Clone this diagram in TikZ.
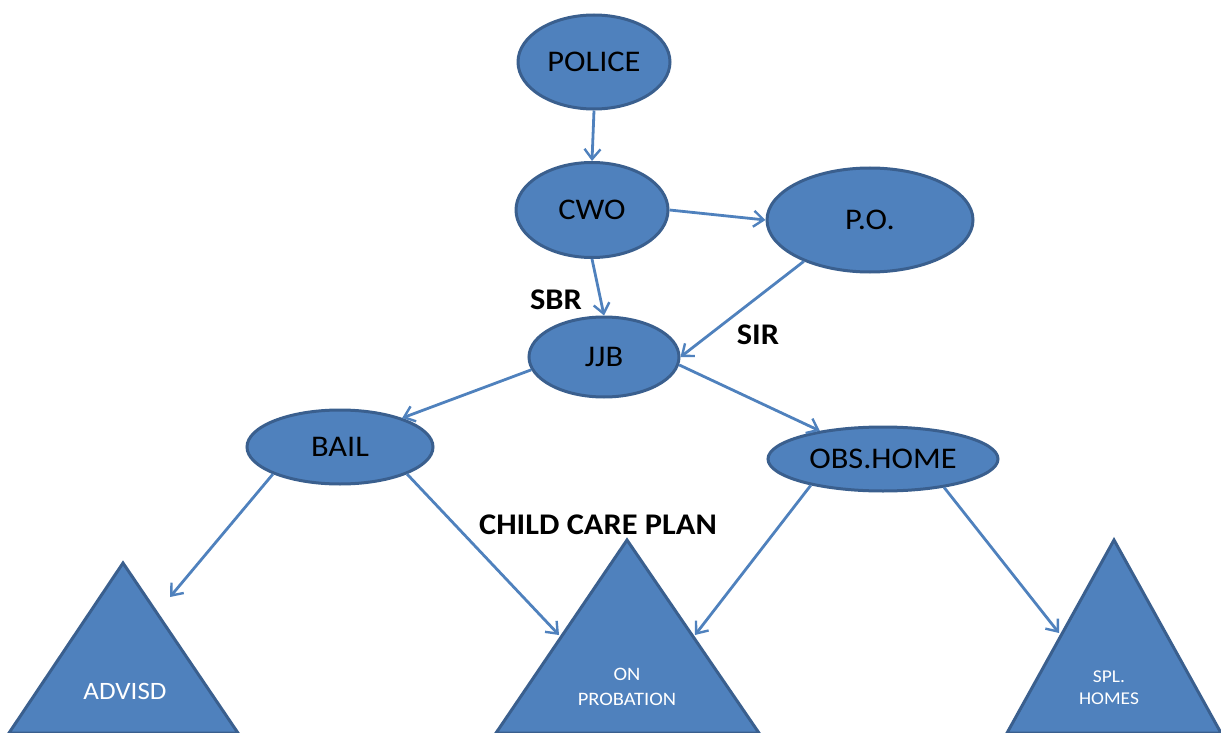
\documentclass[tikz,border=0pt]{standalone}
\usepackage{fontspec}
\setmainfont{Carlito}[FakeStretch=1.08]
\usetikzlibrary{shapes.geometric,arrows.meta}
\definecolor{fillblue}{HTML}{4F81BD}
\definecolor{edgeblue}{HTML}{3A5F8E}
\tikzset{
  ell/.style={ellipse, fill=fillblue, draw=edgeblue, line width=3pt, inner sep=0pt,
    font=\fontsize{30}{34}\selectfont, text=black},
  arr/.style={draw=fillblue, line width=2.8pt, -{Straight Barb[length=10pt,width=16pt,line width=2.4pt]}},
  tri/.style={fill=fillblue, draw=edgeblue, line width=3pt, line join=miter},
  lbl/.style={font=\bfseries\fontsize{30}{34}\selectfont, text=black, inner sep=0pt},
  trilbl/.style={text=white, inner sep=0pt, align=center}
}
\begin{document}
\begin{tikzpicture}[x=1pt,y=-1pt]
\useasboundingbox (0,0) rectangle (1221,733);
% triangles
\draw[tri] (123,563) -- (238,733) -- (9,733) -- cycle;
\draw[tri] (627,540) -- (759,733) -- (496,733) -- cycle;
\draw[tri] (1114,540) -- (1221,733) -- (1007,733) -- cycle;
\node[trilbl, font=\fontsize{25}{28}\selectfont] (advisd) at (125,691) {ADVISD};
\node[trilbl, font=\fontsize{19}{25}\selectfont] (onprob) at (627,687) {ON\\PROBATION};
\node[trilbl, font=\fontsize{18}{22}\selectfont] (splhomes) at (1109,688) {SPL.\\HOMES};
\coordinate (advisdin) at (170,597);
\coordinate (onprobl) at (559,635);
\coordinate (onprobr) at (695,635);
\coordinate (splin) at (1059,633);
% ellipses
\node[ell, minimum width=152pt, minimum height=94pt] (police) at (594,62) {POLICE};
\node[ell, minimum width=152pt, minimum height=95pt] (cwo) at (592,210) {CWO};
\node[ell, minimum width=206pt, minimum height=104pt] (po) at (870,220) {P.O.};
\node[ell, minimum width=150pt, minimum height=80pt] (jjb) at (604,357) {JJB};
\node[ell, minimum width=186pt, minimum height=74pt] (bail) at (340,447) {BAIL};
\node[ell, minimum width=230pt, minimum height=64pt] (obs) at (883,459) {OBS.HOME};
% labels
\node[lbl] (sbr) at (556,300) {SBR};
\node[lbl] (sir) at (758,335) {SIR};
\node[lbl] (ccp) at (598,525) {CHILD CARE PLAN};
% arrows
\draw[arr] (police.south) -- (cwo.north);
\draw[arr] (cwo.east) -- (po.west);
\draw[arr] (cwo.south) -- (jjb.north);
\draw[arr] (po.212) -- (jjb.east);
\draw[arr] (jjb.190) -- (bail.25);
\draw[arr] (jjb.354) -- (obs.156);
\draw[arr] (bail.202) -- (advisdin);
\draw[arr] (bail.338) -- (onprobl);
\draw[arr] (obs.200) -- (onprobr);
\draw[arr] (obs.335) -- (splin);
\end{tikzpicture}
\end{document}
